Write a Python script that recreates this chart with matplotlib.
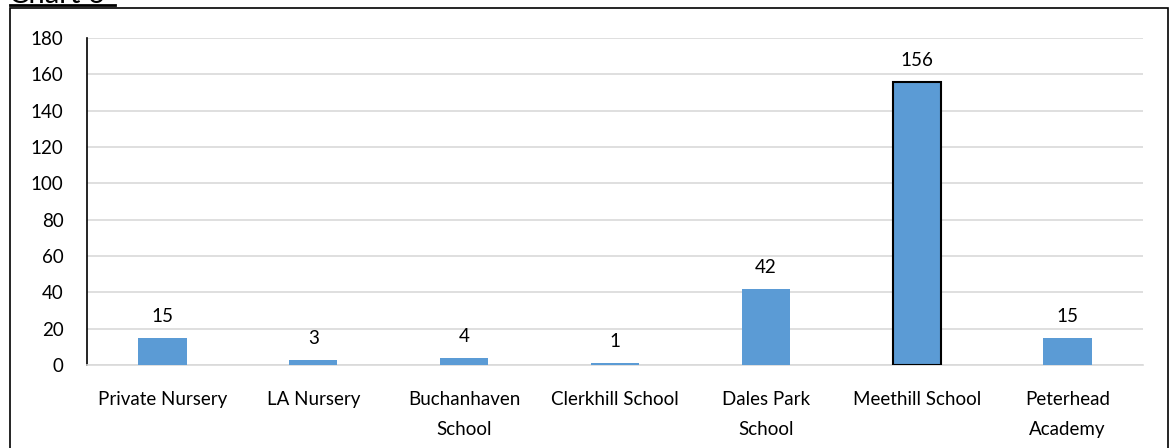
import matplotlib.pyplot as plt
from matplotlib.patches import Rectangle
from matplotlib.lines import Line2D
import numpy as np

plt.rcParams['font.family'] = ['Lato', 'DejaVu Sans']

schools = ["Private Nursery", "LA Nursery", "Buchanhaven\nSchool", "Clerkhill School",
           "Dales Park\nSchool", "Meethill School", "Peterhead\nAcademy"]
counts = [15, 3, 4, 1, 42, 156, 15]
yticks = [0, 20, 40, 60, 80, 100, 120, 140, 160, 180]

W, H = 1171, 448
fig = plt.figure(figsize=(W / 100, H / 100), dpi=100)
ax = fig.add_axes([87 / W, 1 - 365 / H, (1143 - 87) / W, (365 - 38) / H])

x = np.arange(len(schools))
edges = ['none'] * len(schools)
edges[5] = 'black'
bars = ax.bar(x, counts, width=0.32, color='#5b9bd5', edgecolor=edges, linewidth=1.5, zorder=3)

for xi, v in zip(x, counts):
    ax.text(xi, v + 7, str(v), ha='center', va='bottom', fontsize=13.5)

ax.set_ylim(0, 180)
ax.set_xlim(-0.5, len(schools) - 0.5)
ax.set_yticks(yticks)
ax.set_xticks(x)
ax.set_xticklabels(schools, fontsize=13.5, linespacing=1.9)
ax.tick_params(axis='y', labelsize=13.5, length=0, pad=17)
ax.tick_params(axis='x', length=0, pad=19)
ax.yaxis.grid(True, color='#d9d9d9', linewidth=1.2, zorder=0)
for s in ['top', 'right']:
    ax.spines[s].set_visible(False)
ax.spines['left'].set_color('black')
ax.spines['left'].set_linewidth(1.2)
ax.spines['bottom'].set_color('#d9d9d9')
ax.spines['bottom'].set_linewidth(1.2)

# chart border box
fig.patches.append(Rectangle((10 / W, -0.1), (1168 - 10) / W, 1.1 - 8 / H, transform=fig.transFigure,
                             fill=False, edgecolor='black', linewidth=1.2, clip_on=False))
# cut-off title "Chart 6" with underline
fig.text(9 / W, 1 - 3 / H, "Chart 6", fontsize=21, ha='left', va='baseline')
fig.lines.append(Line2D([10 / W, 115 / W], [1 - 5 / H, 1 - 5 / H], transform=fig.transFigure,
                        color='black', linewidth=2))

fig.savefig("out.png", dpi=100)
